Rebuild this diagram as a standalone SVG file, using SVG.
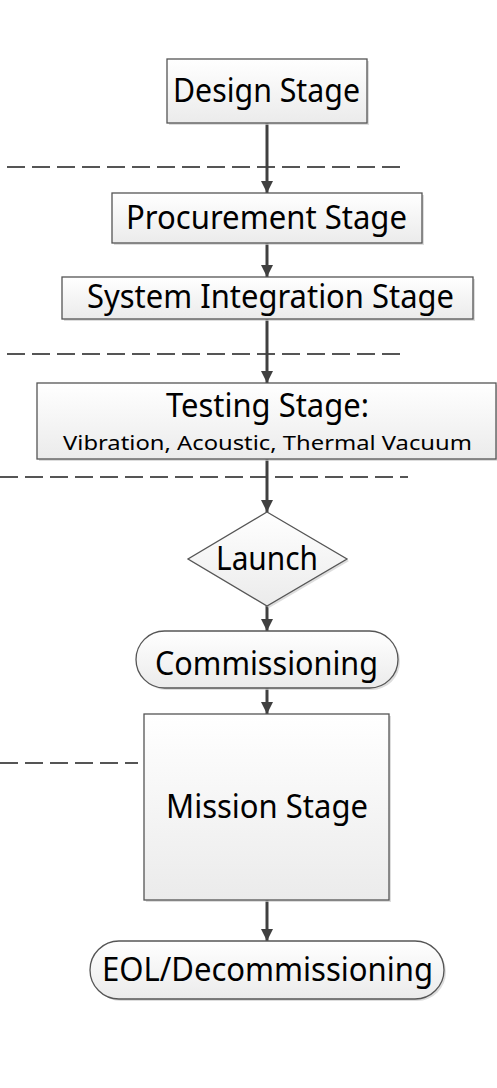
<svg xmlns="http://www.w3.org/2000/svg" width="497" height="1088" viewBox="0 0 497 1088">
<defs>
<linearGradient id="g" x1="0" y1="0" x2="0" y2="1">
<stop offset="0" stop-color="#ffffff"/>
<stop offset="1" stop-color="#ebebeb"/>
</linearGradient>
<marker id="ah" viewBox="0 0 12 12" markerWidth="12" markerHeight="13" refX="12" refY="6" orient="auto" markerUnits="userSpaceOnUse">
<path d="M0,0 L12,6 L0,12 Z" fill="#404040"/>
</marker>
<style>
.n{fill:url(#g);stroke:#555;stroke-width:1.3}
.sh{fill:#cfcfcf;opacity:0.7}
.t{font-family:"Noto Sans","Open Sans",sans-serif;fill:#000;text-anchor:start}
.c{stroke:#404040;stroke-width:3;fill:none;marker-end:url(#ah)}
.d{stroke:#555;stroke-width:2;stroke-dasharray:18 7;fill:none}
</style>
</defs>
<rect width="497" height="1088" fill="#fff"/>
<g id="dividers">
<line class="d" x1="7" y1="167" x2="407" y2="167"/>
<line class="d" x1="7" y1="354" x2="407" y2="354"/>
<line class="d" x1="0" y1="477" x2="408" y2="477"/>
<line class="d" x1="0" y1="763" x2="138" y2="763"/>
</g>
<g id="connectors">
<line class="c" x1="267" y1="123" x2="267" y2="193"/>
<line class="c" x1="267" y1="243" x2="267" y2="277"/>
<line class="c" x1="267" y1="319" x2="267" y2="383"/>
<line class="c" x1="267" y1="459" x2="267" y2="512"/>
<line class="c" x1="267" y1="606" x2="267" y2="631"/>
<line class="c" x1="267" y1="688" x2="267" y2="714"/>
<line class="c" x1="267" y1="900" x2="267" y2="941"/>
</g>
<g id="design">
<rect class="sh" x="169" y="61" width="200" height="64"/>
<rect class="n" x="167" y="59" width="200" height="64"/>
<text class="t" x="173" y="102" font-size="32" textLength="187" lengthAdjust="spacingAndGlyphs">Design Stage</text>
</g>
<g id="procurement">
<rect class="sh" x="114" y="195" width="310" height="50"/>
<rect class="n" x="112" y="193" width="310" height="50"/>
<text class="t" x="126" y="229" font-size="32" textLength="281" lengthAdjust="spacingAndGlyphs">Procurement Stage</text>
</g>
<g id="integration">
<rect class="sh" x="64" y="279" width="411" height="42"/>
<rect class="n" x="62" y="277" width="411" height="42"/>
<text class="t" x="87" y="308" font-size="32" textLength="367" lengthAdjust="spacingAndGlyphs">System Integration Stage</text>
</g>
<g id="testing">
<rect class="sh" x="39" y="385" width="460" height="76"/>
<rect class="n" x="37" y="383" width="459" height="76"/>
<text class="t" x="166" y="417" font-size="32" textLength="203" lengthAdjust="spacingAndGlyphs">Testing Stage:</text>
<text class="t" x="63" y="450" font-size="20" textLength="409" lengthAdjust="spacingAndGlyphs">Vibration, Acoustic, Thermal Vacuum</text>
</g>
<g id="launch">
<path class="sh" d="M269,514 L349,561 L269,608 L190,561 Z"/>
<path class="n" d="M267,512 L347,559 L267,606 L188,559 Z"/>
<text class="t" x="216" y="570" font-size="32" textLength="102" lengthAdjust="spacingAndGlyphs">Launch</text>
</g>
<g id="commissioning">
<rect class="sh" x="138" y="633" width="262" height="57" rx="28.5"/>
<rect class="n" x="136" y="631" width="262" height="57" rx="28.5"/>
<text class="t" x="155" y="675" font-size="32" textLength="223" lengthAdjust="spacingAndGlyphs">Commissioning</text>
</g>
<g id="mission">
<rect class="sh" x="146" y="716" width="245" height="186"/>
<rect class="n" x="144" y="714" width="245" height="186"/>
<text class="t" x="166" y="818" font-size="32" textLength="202" lengthAdjust="spacingAndGlyphs">Mission Stage</text>
</g>
<g id="eol">
<rect class="sh" x="92" y="943" width="354" height="58" rx="29"/>
<rect class="n" x="90" y="941" width="354" height="58" rx="29"/>
<text class="t" x="102" y="981" font-size="32" textLength="331" lengthAdjust="spacingAndGlyphs">EOL/Decommissioning</text>
</g>
</svg>
